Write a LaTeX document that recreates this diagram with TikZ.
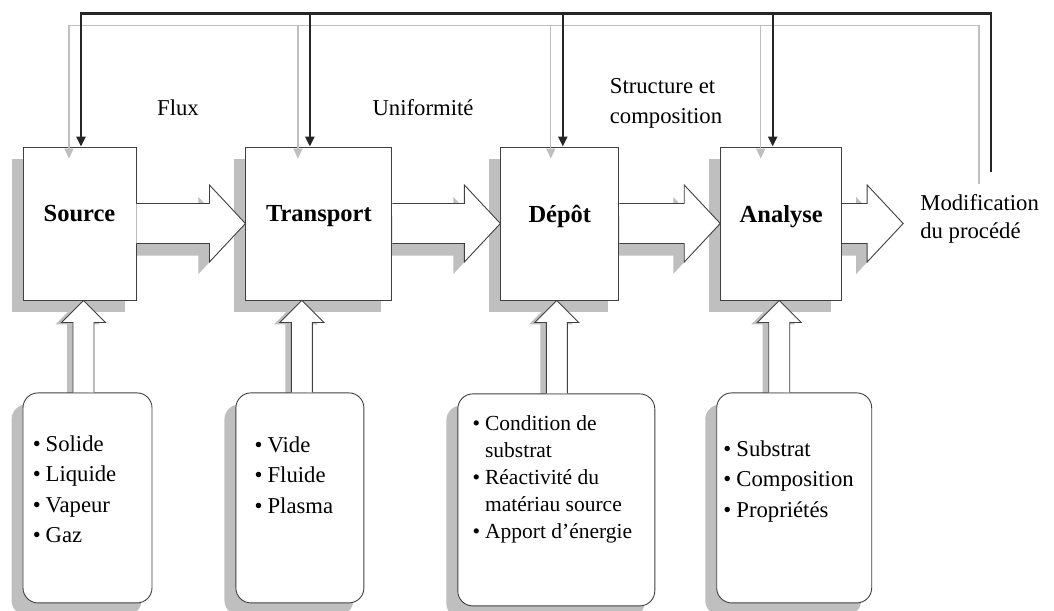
\documentclass[tikz,border=0pt]{standalone}
\usepackage{fontspec}
\setmainfont{Liberation Serif}
\usetikzlibrary{positioning, calc, arrows.meta}
\pgfdeclarelayer{backdrop}
\pgfsetlayers{backdrop,main}

\tikzstyle{stage} = [rectangle, draw=black!75, fill=white, line width=0.9pt, minimum height=153pt, text depth=20pt, font=\fontsize{24.5}{28}\selectfont\bfseries]
\tikzstyle{infobox} = [rectangle, rounded corners=15pt, draw=black!75, fill=white, line width=0.9pt, minimum height=210pt]
\tikzstyle{items} = [anchor=base west, inner sep=0pt, font=\fontsize{22.7}{30.5}\selectfont]
\tikzstyle{note} = [align=left, inner sep=0pt, font=\fontsize{22.7}{29}\selectfont]
\tikzstyle{block} = [draw=black!75, fill=white, line width=0.9pt]
\tikzstyle{castshadow} = [fill=black!25, draw=none, transform canvas={xshift=-11pt, yshift=-12pt}]
\tikzstyle{thinshadow} = [fill=black!25, draw=none, transform canvas={xshift=-6pt, yshift=-2pt}]
\tikzstyle{arrow} = [line width=2.4pt, draw=black!85, ->, >={Triangle[length=10pt, width=9pt]}]
\tikzstyle{ghost} = [line width=1.3pt, draw=black!25, ->, >={Triangle[length=10pt, width=9pt]}, transform canvas={xshift=-12pt, yshift=-12pt}]

% hollow arrow from a stage to a tip point
\newcommand{\sideblock}[3][block]{%
  \path[#1] ($(#2.east)+(0,-20)$) -- ($(#3)+(-36,-20)$) -- ($(#3)+(-36,-38.5)$) -- (#3)
    -- ($(#3)+(-36,38.5)$) -- ($(#3)+(-36,20)$) -- ($(#2.east)+(0,20)$);}
% hollow arrow from an info box up to its stage
\newcommand{\upblock}[4][block]{%
  \coordinate (foot) at (#2.north -| #3.south);
  \path[#1] ($(foot)+(#4-10.5,0)$) -- ($(#3.south)+(#4-10.5,22)$) -- ($(#3.south)+(#4-22,22)$)
    -- ($(#3.south)+(#4,0)$) -- ($(#3.south)+(#4+22,22)$) -- ($(#3.south)+(#4+10.5,22)$)
    -- ($(foot)+(#4+10.5,0)$);}
% feedback lines from the top
\newcommand{\feedback}[1]{%
  \draw[#1] (fbEnd) |- ($(src.north)+(1.5,-133)$) -- ($(src.north)+(1.5,0)$);
  \draw[#1] ($(trans.north)+(-9,-133)$) -- ($(trans.north)+(-9,0)$);
  \draw[#1] ($(depot.north)+(3,-133)$) -- ($(depot.north)+(3,0)$);
  \draw[#1] ($(analyse.north)+(-8.5,-133)$) -- ($(analyse.north)+(-8.5,0)$);}

\begin{document}
\begin{tikzpicture}[x=1pt, y=-1pt]
    \useasboundingbox (0,0) rectangle (1054,610);

    %Main Nodes
    \node (src) [stage, minimum width=113pt] at (79.5,223.5) {Source};
    \node (trans) [stage, minimum width=146pt, right=109pt of src] {Transport};
    \node (depot) [stage, minimum width=118pt, right=108pt of trans] {Dépôt};
    \node (analyse) [stage, minimum width=121pt, right=101pt of depot] {Analyse};

    %Supplementary Nodes
    \node (srcInfo) [infobox, minimum width=129pt, below=92pt of src, xshift=8pt] {};
    \node (transInfo) [infobox, minimum width=128pt, below=92pt of trans, xshift=-19pt] {};
    \node (depotInfo) [infobox, minimum width=197pt, minimum height=212pt, below=93pt of depot, xshift=-3.5pt] {};
    \node (anaInfo) [infobox, minimum width=155pt, below=92pt of analyse, xshift=13pt] {};

    \node (srcItems) [items] at ($(srcInfo.north west)+(10,59)$)
        {\begin{tabular}[t]{@{}l@{\hspace{5pt}}l@{}}
         \textbullet & Solide\\ \textbullet & Liquide\\ \textbullet & Vapeur\\ \textbullet & Gaz
         \end{tabular}};
    \node (transItems) [items] at ($(transInfo.north west)+(19,60)$)
        {\begin{tabular}[t]{@{}l@{\hspace{5pt}}l@{}}
         \textbullet & Vide\\ \textbullet & Fluide\\ \textbullet & Plasma
         \end{tabular}};
    \node (depotItems) [items, font=\fontsize{21.5}{27}\selectfont] at ($(depotInfo.north west)+(15,37)$)
        {\begin{tabular}[t]{@{}l@{\hspace{5pt}}l@{}}
         \textbullet & Condition de\\ & substrat\\ \textbullet & Réactivité du\\ & matériau source\\ \textbullet & Apport d’énergie
         \end{tabular}};
    \node (anaItems) [items] at ($(anaInfo.north west)+(7,64)$)
        {\begin{tabular}[t]{@{}l@{\hspace{5pt}}l@{}}
         \textbullet & Substrat\\ \textbullet & Composition\\ \textbullet & Propriétés
         \end{tabular}};

    %Labels
    \node (flux) [note] at (178,108) {Flux};
    \node (unif) [note] at (423,108) {Uniformité};
    \node (struct) [note, font=\fontsize{22.7}{30}\selectfont] at (666,103) {Structure et\\composition};
    \node (mod) [note, font=\fontsize{22.7}{28}\selectfont, right=78pt of analyse, yshift=4.5pt] {Modification\\du procédé};
    \coordinate (outTip) at ($(analyse.east)+(61,0)$);
    \coordinate (fbEnd) at (991,172);

    %Shadows
    \begin{pgfonlayer}{backdrop}
        \fill[castshadow] (src.south west) rectangle (src.north east);
        \fill[castshadow] (trans.south west) rectangle (trans.north east);
        \fill[castshadow] (depot.south west) rectangle (depot.north east);
        \fill[castshadow] (analyse.south west) rectangle (analyse.north east);
        \fill[castshadow, rounded corners=15pt] (srcInfo.south west) rectangle (srcInfo.north east);
        \fill[castshadow, rounded corners=15pt] (transInfo.south west) rectangle (transInfo.north east);
        \fill[castshadow, rounded corners=15pt] (depotInfo.south west) rectangle (depotInfo.north east);
        \fill[castshadow, rounded corners=15pt] (anaInfo.south west) rectangle (anaInfo.north east);
        \sideblock[castshadow]{src}{trans.west}
        \sideblock[castshadow]{trans}{depot.west}
        \sideblock[castshadow]{depot}{analyse.west}
        \sideblock[castshadow]{analyse}{outTip}
        \upblock[thinshadow]{srcInfo}{src}{4}
        \upblock[thinshadow]{transInfo}{trans}{-17}
        \upblock[thinshadow]{depotInfo}{depot}{-3}
        \upblock[thinshadow]{anaInfo}{analyse}{-2}
    \end{pgfonlayer}

    %Arrows
    \sideblock{src}{trans.west}
    \sideblock{trans}{depot.west}
    \sideblock{depot}{analyse.west}
    \sideblock{analyse}{outTip}
    \upblock{srcInfo}{src}{4}
    \upblock{transInfo}{trans}{-17}
    \upblock{depotInfo}{depot}{-3}
    \upblock{anaInfo}{analyse}{-2}
    \feedback{ghost}
    \feedback{arrow}

\end{tikzpicture}
\end{document}
